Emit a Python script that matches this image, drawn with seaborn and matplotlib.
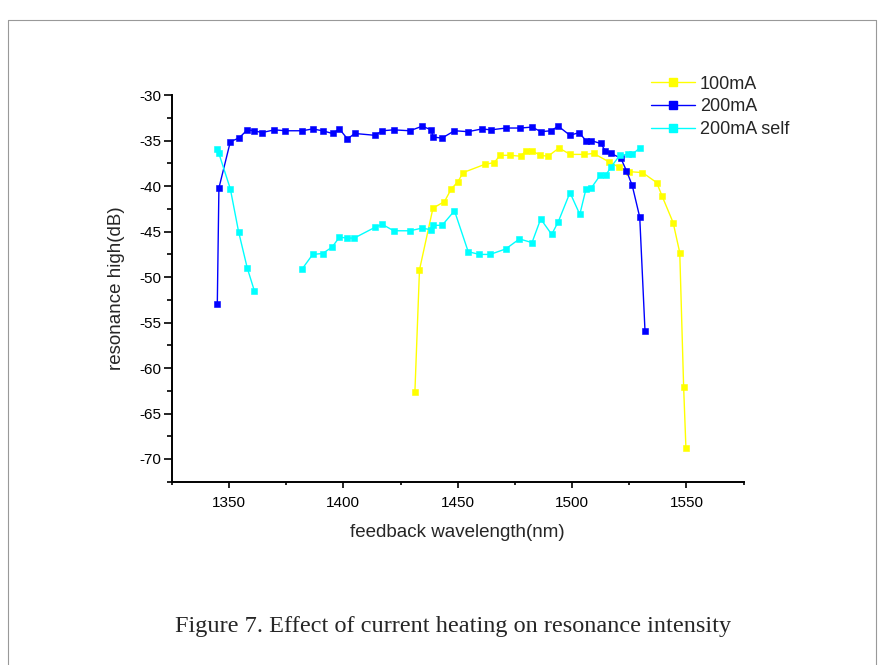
import numpy as np
import matplotlib
matplotlib.use('Agg')
import matplotlib.pyplot as plt
from matplotlib.lines import Line2D
from matplotlib.ticker import MultipleLocator
import seaborn as sns

# 100mA
wl_100 = [1431.3, 1433.3, 1439.2, 1444.2, 1447.2, 1450.1, 1452.4, 1461.8, 1466.0,
          1468.5, 1473.0, 1477.5, 1479.8, 1482.6, 1486.0, 1489.5, 1494.3, 1499.2,
          1505.2, 1509.5, 1516.0, 1520.5, 1525.1, 1530.8, 1537.0, 1539.4, 1544.2,
          1547.1, 1548.8, 1549.8]
db_100 = [-62.6, -49.2, -42.4, -41.7, -40.3, -39.5, -38.5, -37.6, -37.4,
          -36.6, -36.6, -36.7, -36.1, -36.1, -36.6, -36.7, -35.8, -36.5,
          -36.5, -36.4, -37.3, -37.9, -38.4, -38.5, -39.6, -41.1, -44.0,
          -47.3, -62.1, -68.8]

# 200mA
wl_200 = [1344.9, 1345.6, 1350.6, 1354.4, 1358.0, 1361.1, 1364.4, 1369.9, 1374.7,
          1382.0, 1386.6, 1390.9, 1395.3, 1398.3, 1401.8, 1405.0, 1413.8, 1417.1,
          1422.0, 1429.1, 1434.5, 1438.4, 1439.3, 1443.2, 1448.6, 1454.6, 1460.6,
          1464.5, 1471.2, 1477.3, 1482.5, 1486.4, 1490.8, 1494.0, 1499.1, 1503.1,
          1506.1, 1508.5, 1512.6, 1514.5, 1517.0, 1521.3, 1523.8, 1526.3, 1529.6,
          1531.9]
db_200 = [-52.9, -40.2, -35.1, -34.7, -33.8, -33.9, -34.1, -33.8, -33.9,
          -33.9, -33.7, -33.9, -34.2, -33.7, -34.8, -34.2, -34.4, -33.9,
          -33.8, -33.9, -33.4, -33.8, -34.6, -34.7, -33.9, -34.0, -33.7,
          -33.8, -33.6, -33.6, -33.5, -34.0, -33.9, -33.4, -34.4, -34.1,
          -35.0, -35.0, -35.3, -36.1, -36.4, -36.9, -38.3, -39.9, -43.4,
          -55.9]

# 200mA self (two separate runs)
wl_self_a = [1344.8, 1345.6, 1350.6, 1354.2, 1358.0, 1361.1]
db_self_a = [-35.9, -36.4, -40.3, -45.0, -49.0, -51.5]
wl_self_b = [1382.0, 1386.6, 1390.9, 1395.1, 1398.3, 1401.7, 1404.8, 1414.0, 1417.1,
             1422.0, 1429.2, 1434.5, 1438.4, 1439.3, 1443.2, 1448.6, 1454.6, 1459.5,
             1464.2, 1471.0, 1477.0, 1482.5, 1486.3, 1491.1, 1494.0, 1499.1, 1503.4,
             1506.1, 1508.4, 1512.3, 1514.7, 1517.0, 1520.9, 1524.5, 1526.3, 1529.6]
db_self_b = [-49.1, -47.5, -47.4, -46.7, -45.6, -45.7, -45.7, -44.5, -44.2,
             -44.9, -44.9, -44.6, -44.8, -44.3, -44.3, -42.7, -47.2, -47.5,
             -47.5, -46.9, -45.8, -46.2, -43.6, -45.3, -43.9, -40.7, -43.1,
             -40.3, -40.2, -38.8, -38.8, -37.9, -36.6, -36.5, -36.5, -35.8]

labels = ['100mA', '200mA', '200mA self']
colors = ['#ffff00', '#0000ff', '#00ffff']

sns.set_style('white')
plt.rcParams['font.family'] = ['Liberation Sans', 'DejaVu Sans']
plt.rcParams['axes.unicode_minus'] = False

fig = plt.figure(figsize=(8.81, 6.65), dpi=100)
ax = fig.add_axes([0.195, 0.2756, 0.6490, 0.5811])

kw = dict(marker='s', markersize=4.6, markeredgewidth=0.4, linewidth=1.0, sort=False)
sns.lineplot(x=wl_100, y=db_100, color=colors[0], markeredgecolor=colors[0], ax=ax, **kw)
sns.lineplot(x=wl_200, y=db_200, color=colors[1], markeredgecolor=colors[1], ax=ax, **kw)
sns.lineplot(x=wl_self_a, y=db_self_a, color=colors[2], markeredgecolor=colors[2], ax=ax, **kw)
sns.lineplot(x=wl_self_b, y=db_self_b, color=colors[2], markeredgecolor=colors[2], ax=ax, **kw)

ax.set_xlim(1325, 1575)
ax.set_ylim(-72.5, -30)
ax.xaxis.set_major_locator(MultipleLocator(50))
ax.xaxis.set_minor_locator(MultipleLocator(25))
ax.yaxis.set_major_locator(MultipleLocator(5))
ax.yaxis.set_minor_locator(MultipleLocator(2.5))
for s in ['top', 'right']:
    ax.spines[s].set_visible(False)
for s in ['left', 'bottom']:
    ax.spines[s].set_linewidth(1.4)
    ax.spines[s].set_color('black')
ax.tick_params(axis='x', which='major', direction='out', length=4.5, width=1.2,
               labelsize=11, bottom=True, colors='black', pad=6)
ax.tick_params(axis='x', which='minor', direction='out', length=2.5, width=1.2,
               bottom=True, colors='black')
ax.tick_params(axis='y', which='major', direction='out', length=6, width=1.2,
               labelsize=11, left=True, colors='black', pad=1.5)
ax.tick_params(axis='y', which='minor', direction='out', length=3.6, width=1.2,
               left=True, colors='black')
ax.set_xlabel('feedback wavelength(nm)', fontsize=13.5, labelpad=10)
ax.set_ylabel('resonance high(dB)', fontsize=13.5, labelpad=10)

handles = [Line2D([], [], color=c, marker='s', markersize=6, markeredgecolor=c, linewidth=1.0)
           for c in colors]
fig.legend(handles, labels, loc='upper left', bbox_to_anchor=(0.731, 0.897),
           frameon=False, fontsize=13, handlelength=2.4, handletextpad=0.3,
           labelspacing=0.32, borderaxespad=0)

fig.text(0.514, 0.0586, 'Figure 7. Effect of current heating on resonance intensity',
         ha='center', va='center', fontsize=17.5, family='Liberation Serif')

# thin page frame
for xs, ys in [([8, 8], [0, 645]), ([8, 876], [645, 645]), ([876, 876], [0, 645])]:
    fig.add_artist(Line2D(np.array(xs) / 881, np.array(ys) / 665, color='#999999', linewidth=0.8))

fig.savefig('out.png', dpi=100)
